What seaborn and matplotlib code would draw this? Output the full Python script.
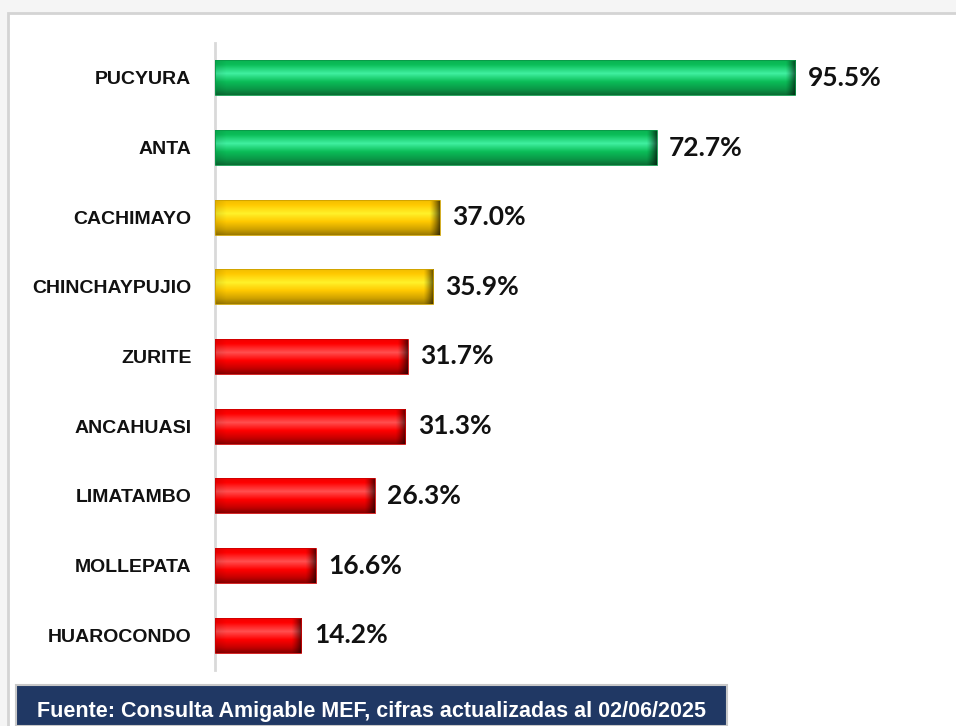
import numpy as np
import pandas as pd
import matplotlib
matplotlib.use("Agg")
import matplotlib.pyplot as plt
from matplotlib.patches import Rectangle
from matplotlib.colors import to_rgb
import seaborn as sns

districts = ["PUCYURA", "ANTA", "CACHIMAYO", "CHINCHAYPUJIO", "ZURITE",
             "ANCAHUASI", "LIMATAMBO", "MOLLEPATA", "HUAROCONDO"]
avance = [95.5, 72.7, 37.0, 35.9, 31.7, 31.3, 26.3, 16.6, 14.2]
bar_colors = ["#0bbd58", "#0bbd58", "#ffc800", "#ffc800", "#ff0000",
              "#ff0000", "#ff0000", "#ff0000", "#ff0000"]
footer_text = "Fuente: Consulta Amigable MEF, cifras actualizadas al 02/06/2025"

# gradient stops for the 3D look: (light, dark) per base colour
shades = {"#0bbd58": ("#40f0a0", "#0a6e34"),
          "#ffc800": ("#fff22a", "#9c7a00"),
          "#ff0000": ("#ff5050", "#8a0000")}

sns.set_style("white")
plt.rcParams["font.family"] = ["Liberation Sans", "DejaVu Sans"]

W, H = 956, 726
fig = plt.figure(figsize=(W / 100, H / 100), dpi=100)
fig.patch.set_facecolor("#f5f5f5")

# white panel with light grey frame
fig.patches.append(Rectangle((8 / W, -0.01), 1.0, (H - 13) / H + 0.01,
                             transform=fig.transFigure, facecolor="white",
                             edgecolor="#d4d4d4", linewidth=2, zorder=-5))

ax = fig.add_axes([215 / W, (H - 670) / H, (945 - 215) / W, (670 - 43) / H])
ax.set_facecolor("none")
ax.set_zorder(2)

df = pd.DataFrame({"distrito": districts, "avance": avance})
sns.barplot(data=df, x="avance", y="distrito", hue="distrito",
            palette=dict(zip(districts, bar_colors)), orient="h",
            width=0.5, legend=False, ax=ax)

px_per_unit = 6.075
ax.set_xlim(0, (945 - 215) / px_per_unit)
ax.set_ylim(8.5, -0.5)

# 3D-looking gradient fill clipped to each bar
for patch, col in zip(list(ax.patches), bar_colors):
    x0, y0 = patch.get_x(), patch.get_y()
    w, h = patch.get_width(), patch.get_height()
    mid = np.array(to_rgb(col))
    lt = np.array(to_rgb(shades[col][0]))
    dk = np.array(to_rgb(shades[col][1]))
    rows = 40
    t = np.linspace(0, 1, rows)
    stops = [0, 0.12, 0.38, 0.62, 0.85, 1.0]
    cols = [mid * 0.95, mid, lt, mid, (mid + dk) / 2, dk]
    prof = np.stack([np.interp(t, stops, [c[k] for c in cols]) for k in range(3)], axis=1)
    ncol = max(int(w * px_per_unit), 4)
    img = np.repeat(prof[:, None, :], ncol, axis=1)
    # darker bevel at the right end, slight at left
    xs = np.arange(ncol)
    bev = 11
    right = np.clip((xs - (ncol - bev)) / bev, 0, 1)
    left = np.clip((bev - xs) / bev, 0, 1)
    shade = 1 - 0.7 * right ** 1.3 - 0.1 * left
    img = np.clip(img * shade[None, :, None], 0, 1)
    im = ax.imshow(img, extent=[x0, x0 + w, y0 + h, y0], aspect="auto",
                   interpolation="bilinear", zorder=3)
    im.set_clip_path(patch)
    patch.set_edgecolor(tuple(mid * 0.8))
    patch.set_linewidth(0.6)
    patch.set_zorder(4)
    patch.set_facecolor("none")

ax.set_xlim(0, (945 - 215) / px_per_unit)
ax.set_ylim(8.5, -0.5)

for y, v in enumerate(avance):
    ax.annotate(f"{v:.1f}%", xy=(v, y), xytext=(9, 0), textcoords="offset points",
                ha="left", va="center", fontsize=19, fontweight="bold",
                family=["Lato", "DejaVu Sans"], color="#111111")

ax.set_xlabel("")
ax.set_ylabel("")
ax.set_xticks([])
ax.tick_params(axis="y", length=0, pad=17)
for lab in ax.get_yticklabels():
    lab.set_fontweight("bold")
    lab.set_fontsize(14)
    lab.set_color("#111111")
for s in ["top", "right", "bottom"]:
    ax.spines[s].set_visible(False)
ax.spines["left"].set_color("#d9d9d9")
ax.spines["left"].set_linewidth(2)

# footer
fig.patches.append(Rectangle((16 / W, 0), (727 - 16) / W, (H - 685) / H,
                             transform=fig.transFigure, facecolor="#203864",
                             edgecolor="#c8c8c8", linewidth=1.5, zorder=5))
fig.text(37 / W, (H - 711) / H, footer_text, color="white", fontsize=15.5,
         fontweight="bold", va="center", ha="left", zorder=6)

fig.savefig("out.png", dpi=100, facecolor=fig.get_facecolor())
